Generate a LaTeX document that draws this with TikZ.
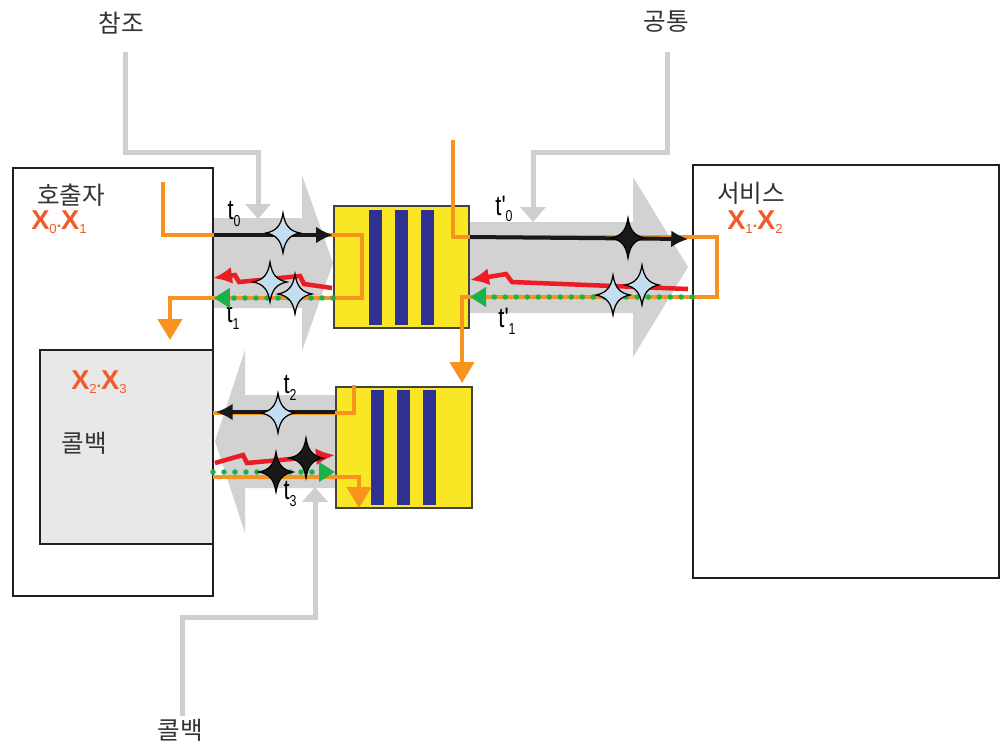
\documentclass[tikz,border=0pt]{standalone}
\usepackage{fontspec}
\setmainfont{Liberation Sans}
\newfontfamily\kofont{Noto Sans CJK KR}
\newfontfamily\narrowfont[FakeStretch=0.78]{Liberation Sans}
\usetikzlibrary{arrows.meta,fit}
\definecolor{FlowOrange}{HTML}{F7941D}
\definecolor{FlowRed}{HTML}{ED1C24}
\definecolor{FlowGreen}{HTML}{1DB14B}
\definecolor{QueueYellow}{HTML}{F9E726}
\definecolor{QueueBlue}{HTML}{2E3192}
\definecolor{BandGray}{HTML}{D2D2D2}
\definecolor{FeedGray}{HTML}{CFCFCF}
\definecolor{PanelGray}{HTML}{E8E8E8}
\definecolor{StarBlue}{HTML}{C4DDEF}
\definecolor{LabelRed}{HTML}{F15A29}
\definecolor{EdgeDark}{HTML}{231F20}
\newcommand{\tmark}[2]{#1\raisebox{-0.45ex}{\fontsize{9}{9}\selectfont #2}}
\newcommand{\xsub}[1]{\raisebox{-0.25ex}{\mdseries\fontsize{7.5}{7.5}\selectfont #1}}
\newcommand{\xpair}[2]{X\xsub{#1}\raisebox{0.15ex}{\fontsize{9}{9}\selectfont .}X\xsub{#2}}
\tikzset{
  party box/.style={draw=EdgeDark, fill=white, line width=0.03cm, inner sep=0pt},
  panel box/.style={party box, fill=PanelGray},
  queue box/.style={draw=EdgeDark!85, fill=QueueYellow, line width=0.04cm, inner sep=0pt},
  queue bar/.style={fill=QueueBlue},
  band/.style={fill=BandGray},
  feed/.style={draw=FeedGray, line width=0.1cm, -{Triangle[width=0.5cm,length=0.3cm]}},
  ctrl line/.style={draw=FlowOrange, line width=0.09cm},
  ctrl flow/.style={ctrl line, -{Triangle[width=0.48cm,length=0.42cm]}},
  call flow/.style={draw=black!90, line width=0.08cm, -{Latex[width=0.34cm,length=0.34cm]}},
  fault flow/.style={draw=FlowRed, line width=0.09cm, -{Latex[width=0.34cm,length=0.38cm]}},
  ack flow/.style={draw=FlowGreen, line width=0.11cm, line cap=round,
    dash pattern=on 0pt off 0.22cm, -{Triangle[width=0.38cm,length=0.32cm]}},
  ko label/.style={font=\kofont\fontsize{14}{14}\selectfont, text=black!80, inner sep=0pt},
  var label/.style={font=\bfseries\fontsize{15.5}{15.5}\selectfont, text=LabelRed, inner sep=0pt},
  time label/.style={font=\narrowfont\fontsize{16}{16}\selectfont, inner sep=0pt},
  star pale/.style={draw=black, fill=StarBlue, line width=0.025cm},
  star dark/.style={draw=black, fill=black!90, line width=0.025cm},
  sparkle/.pic={
    \path[pic actions] (0,-20) .. controls (2,-7) and (7,-2) .. (17,0)
      .. controls (7,2) and (2,7) .. (0,20)
      .. controls (-2,7) and (-7,2) .. (-17,0)
      .. controls (-7,-2) and (-2,-7) .. (0,-20) -- cycle;
  }
}
\begin{document}
\begin{tikzpicture}[x=0.02cm,y=-0.02cm]
  \useasboundingbox (0,0) rectangle (1000,745);

  % transfer bands
  \fill[band] (213,218) -- (302,218) -- (302,175) -- (333,263) -- (302,351) -- (302,308) -- (213,308) -- cycle;
  \fill[band] (468,222) -- (633,222) -- (633,177) -- (688,267) -- (633,357) -- (633,313) -- (468,313) -- cycle;
  \fill[band] (336,395) -- (245,395) -- (245,350) -- (215,441) -- (245,533) -- (245,488) -- (336,488) -- cycle;

  % parties
  \node[party box, fit={(13,168) (213,596)}] (caller) {};
  \node[panel box, fit={(40,350) (213,544)}] (cbpanel) {};
  \node[party box, fit={(693,165) (999,578)}] (service) {};

  % queues
  \node[queue box, fit={(334,206) (469,328)}] (queueA) {};
  \node[queue box, fit={(336,387) (472,508)}] (queueB) {};
  \foreach \bx in {369,395,421}
    \fill[queue bar] (\bx,210) rectangle ++(13,115);
  \foreach \bx in {371,397,423}
    \fill[queue bar] (\bx,390) rectangle ++(13,115);

  % labels
  \node[ko label] (reflab) at (121,23) {참조};
  \node[ko label] (comlab) at (666,22) {공통};
  \node[ko label] (cbklab) at (180,730) {콜백};
  \node[ko label] (callerlab) at (71,195) {호출자};
  \node[ko label] (cbpanellab) at (84,443) {콜백};
  \node[ko label] (servicelab) at (751,193) {서비스};
  \node[var label] (callervar) at (59,222) {\xpair{0}{1}};
  \node[var label] (cbpanelvar) at (99,382) {\xpair{2}{3}};
  \node[var label] (servicevar) at (755,222) {\xpair{1}{2}};
  \node[time label] (t0lab) at (234,214) {\tmark{t}{0}};
  \node[time label] (t1lab) at (233,317) {\tmark{t}{1}};
  \node[time label] (tp0lab) at (504,209) {\tmark{t'}{0}};
  \node[time label] (tp1lab) at (507,321) {\tmark{t'}{1}};
  \node[time label] (t2lab) at (290,388) {\tmark{t}{2}};
  \node[time label] (t3lab) at (290,494) {\tmark{t}{3}};

  % feeds into the bands
  \coordinate (refsrc) at (125,52);
  \coordinate (refbend) at (258,152);
  \coordinate (refin) at (258,219);
  \coordinate (comsrc) at (667,52);
  \coordinate (combend) at (533,152);
  \coordinate (comin) at (533,222);
  \coordinate (cbksrc) at (182,716);
  \coordinate (cbkbend) at (315,617);
  \coordinate (cbkin) at (315,487);
  \draw[feed] (refsrc) |- (refbend) -- (refin);
  \draw[feed] (comsrc) |- (combend) -- (comin);
  \draw[feed] (cbksrc) |- (cbkbend) -- (cbkin);

  % control paths
  \coordinate (ctlA) at (163,182);
  \coordinate (ctlAturn) at (362,235);
  \coordinate (ctlAback) at (170,298);
  \coordinate (ctlAend) at (170,340);
  \coordinate (ctlB) at (453,140);
  \coordinate (ctlBturn) at (717,237);
  \coordinate (ctlBback) at (462,297);
  \coordinate (ctlBend) at (462,383);
  \coordinate (ctlC) at (354,385);
  \coordinate (ctlCout) at (213,413);
  \coordinate (ctlCin) at (213,477);
  \coordinate (ctlCend) at (359,508);
  \draw[ctrl flow] (ctlA) |- (ctlAturn) |- (ctlAback) -- (ctlAend);
  \draw[ctrl flow] (ctlB) |- (ctlBturn) |- (ctlBback) -- (ctlBend);
  \draw[ctrl line] (ctlC) |- (ctlCout);
  \draw[ctrl flow] (ctlCin) -| (ctlCend);

  % calls
  \draw[call flow] (caller.east |- ctlAturn) -- (queueA.west |- ctlAturn);
  \draw[call flow] (queueA.east |- ctlBturn) -- ([xshift=-0.08cm,yshift=-0.04cm]service.west |- ctlBturn);
  \draw[call flow] ([yshift=0.02cm]queueB.west |- ctlCout) -- ([xshift=0.04cm,yshift=0.02cm]caller.east |- ctlCout);

  % faults
  \coordinate (faultA) at (332,288);
  \coordinate (faultAend) at (213,278);
  \coordinate (faultB) at (688,289);
  \coordinate (faultBend) at (470,280);
  \coordinate (faultC) at (215,463);
  \coordinate (faultCend) at (335,455);
  \draw[fault flow] (faultA) -- (304,284) -- (300,276) -- (239,282) -- (235,275) -- (faultAend);
  \draw[fault flow] (faultB) -- (512,282) -- (506,274) -- (faultBend);
  \draw[fault flow] (faultC) -- (243,455) -- (247,463) -- (faultCend);

  % acknowledgements
  \coordinate (ackC) at (213,472);
  \draw[ack flow] (queueA.west |- ctlAback) -- (caller.east |- ctlAback);
  \draw[ack flow] (service.west |- ctlBback) -- (queueA.east |- ctlBback);
  \draw[ack flow] (ackC) -- (queueB.west |- ackC);

  % events
  \pic[star pale] at (283,233) {sparkle};
  \pic[star pale] at (270,282) {sparkle};
  \pic[star pale] at (295,294) {sparkle};
  \pic[star dark] at (628,238) {sparkle};
  \pic[star pale] at (613,295) {sparkle};
  \pic[star pale] at (642,285) {sparkle};
  \pic[star pale] at (278,413) {sparkle};
  \pic[star dark] at (276,472) {sparkle};
  \pic[star dark] at (306,458) {sparkle};
\end{tikzpicture}
\end{document}
